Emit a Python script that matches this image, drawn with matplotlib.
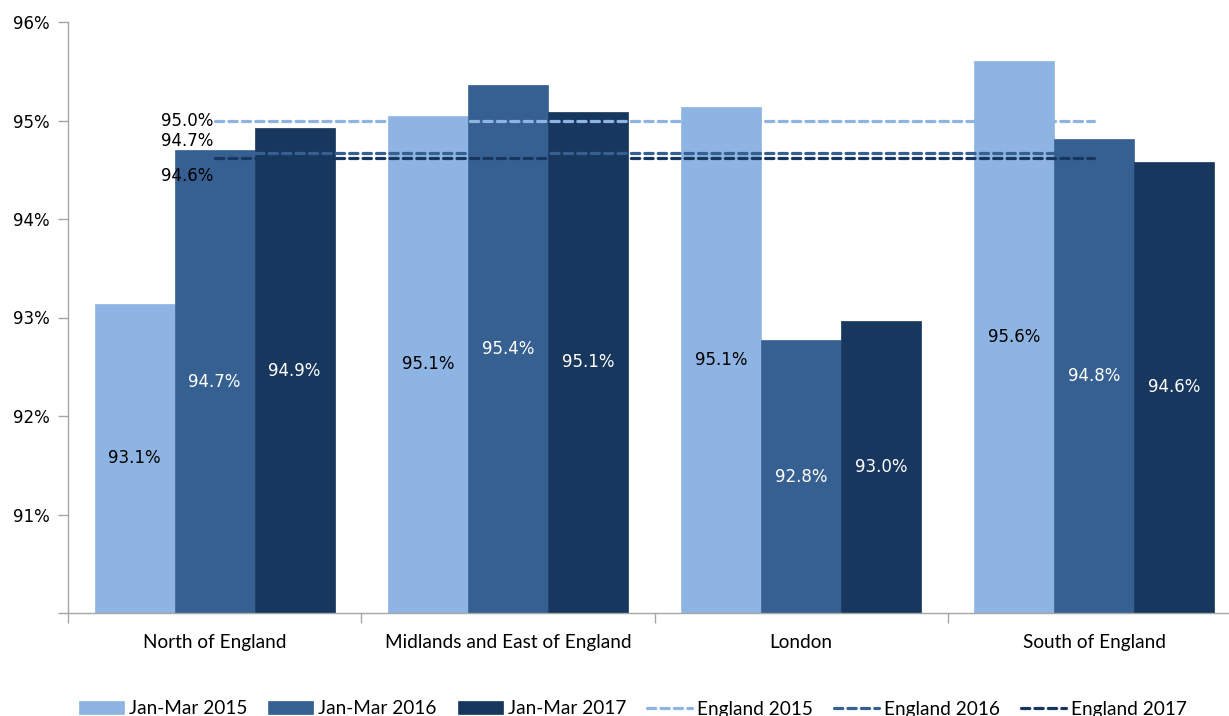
import matplotlib
matplotlib.use("Agg")
import matplotlib.pyplot as plt
import numpy as np

categories = ["North of England", "Midlands and East of England", "London", "South of England"]
series_names = ["Jan-Mar 2015", "Jan-Mar 2016", "Jan-Mar 2017"]
values_2015 = [93.14, 95.05, 95.14, 95.60]
values_2016 = [94.70, 95.36, 92.77, 94.81]
values_2017 = [94.92, 95.09, 92.96, 94.58]
bar_labels_2015 = ["93.1%", "95.1%", "95.1%", "95.6%"]
bar_labels_2016 = ["94.7%", "95.4%", "92.8%", "94.8%"]
bar_labels_2017 = ["94.9%", "95.1%", "93.0%", "94.6%"]
england_names = ["England 2015", "England 2016", "England 2017"]
england_values = [95.0, 94.67, 94.62]
england_labels = ["95.0%", "94.7%", "94.6%"]
yticks = [91, 92, 93, 94, 95, 96]
ytick_labels = ["91%", "92%", "93%", "94%", "95%", "96%"]

colors = ["#8EB4E3", "#376092", "#17375E"]
label_colors = ["black", "white", "white"]

W, H = 1229, 716
fig = plt.figure(figsize=(W / 100, H / 100), dpi=100)
left, right, top, bottom = 68, 1241, 22, 613
ax = fig.add_axes([left / W, 1 - bottom / H, (right - left) / W, (bottom - top) / H])

x = np.arange(len(categories))
bw = 0.273
all_vals = [values_2015, values_2016, values_2017]
all_labels = [bar_labels_2015, bar_labels_2016, bar_labels_2017]
for i, (vals, labs) in enumerate(zip(all_vals, all_labels)):
    xs = x + (i - 1) * bw
    ax.bar(xs, [v - 90 for v in vals], bottom=90, width=bw, color=colors[i],
           label=series_names[i], zorder=2, edgecolor=colors[i], linewidth=0.5)
    for xi, v, lab in zip(xs, vals, labs):
        ax.text(xi, (90 + v) / 2, lab, ha="center", va="center", fontsize=12,
                color=label_colors[i], family="DejaVu Sans", zorder=4)

for i, (name, val) in enumerate(zip(england_names, england_values)):
    ax.plot([x[0], x[-1]], [val, val], color=colors[i], lw=2.3,
            linestyle=(0, (2.6, 1.6)), dash_capstyle="round", label=name, zorder=3)

offsets = [(0, 0), (0, 12), (0, -18)]
for (dx, dy), val, lab in zip(offsets, england_values, england_labels):
    ax.annotate(lab, xy=(x[0], val), xytext=(dx - 1, dy * 0.72), textcoords="offset points",
                ha="right", va="center", fontsize=12, family="DejaVu Sans", zorder=5)

ax.set_xlim(-0.5, 3.5)
ax.set_ylim(90, 96)
ax.set_yticks([90] + yticks)
ax.set_yticklabels([""] + ytick_labels, family="DejaVu Sans", fontsize=12)
ax.set_xticks(np.arange(-0.5, 4.0, 1.0))
ax.set_xticklabels([])
ax.set_xticks(x, minor=True)
ax.set_xticklabels(categories, minor=True, family="Lato", fontsize=13.7)
ax.tick_params(axis="x", which="minor", length=0, pad=15)
ax.tick_params(axis="x", which="major", length=7, color="#A6A6A6", width=1)
ax.tick_params(axis="y", length=7, color="#A6A6A6", width=1, pad=6)
for s in ["top", "right"]:
    ax.spines[s].set_visible(False)
for s in ["left", "bottom"]:
    ax.spines[s].set_color("#A6A6A6")
    ax.spines[s].set_linewidth(1)

handles, labels = ax.get_legend_handles_labels()
bar_h = [h for h, l in zip(handles, labels) if l in series_names]
line_h = [h for h, l in zip(handles, labels) if l in england_names]
fig.legend(bar_h + line_h, series_names + england_names, loc="center",
           bbox_to_anchor=(633 / W, 1 - 709 / H), ncol=6, frameon=False,
           prop={"family": "Lato", "size": 13.7}, handlelength=2.37, handleheight=0.65,
           handletextpad=0.26, columnspacing=1.1, borderpad=0)

fig.savefig("out.png", dpi=100)
